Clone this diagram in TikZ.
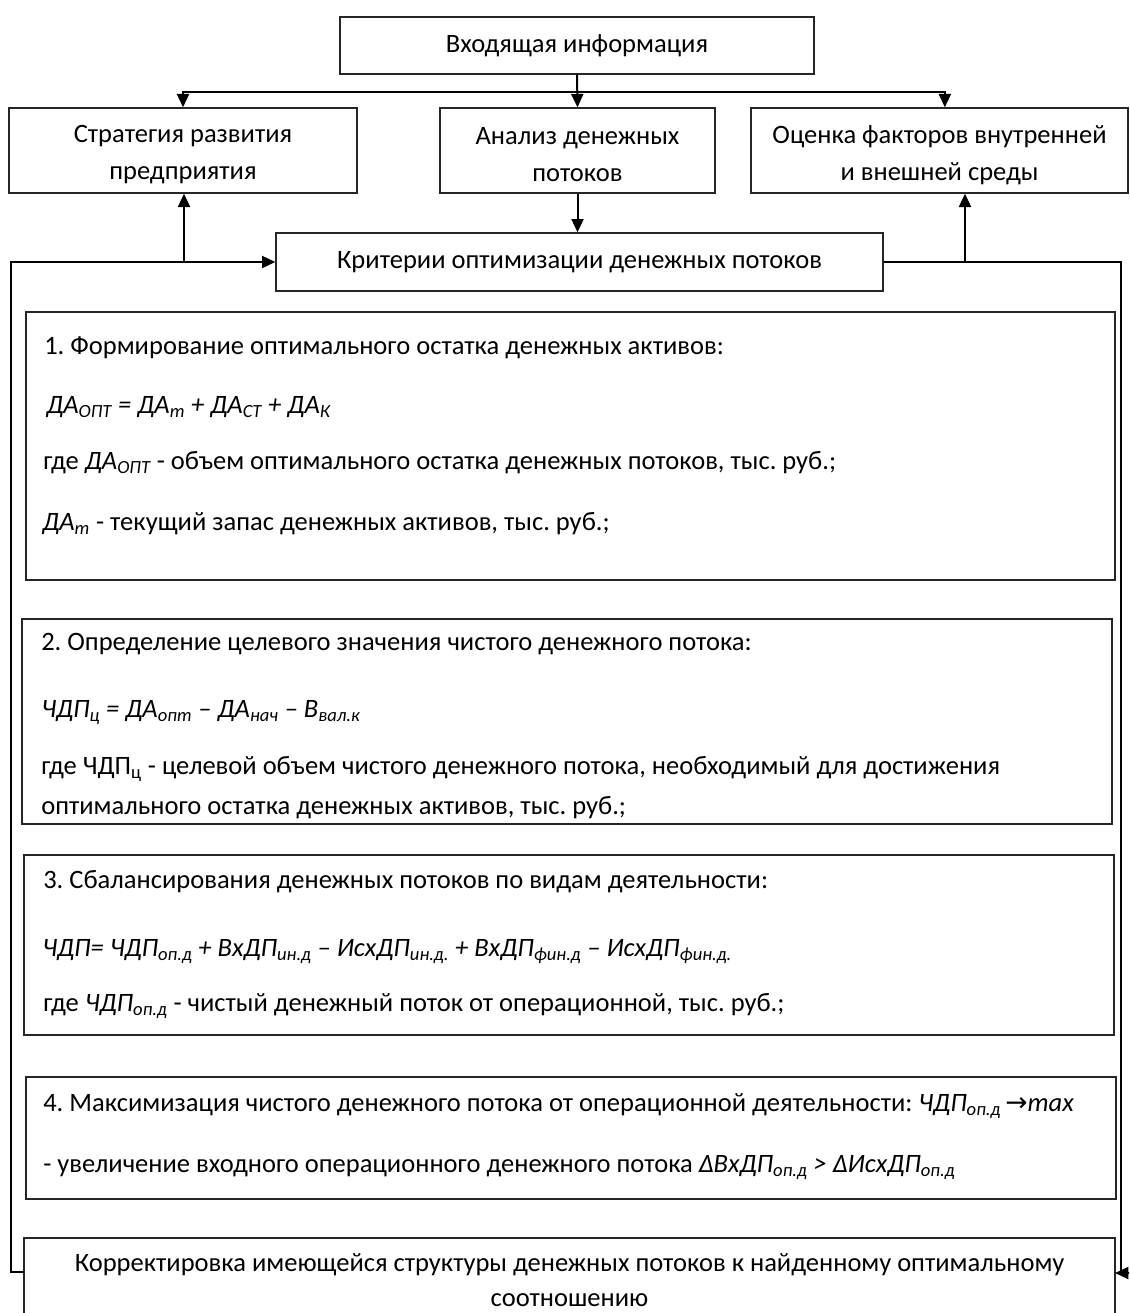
\documentclass[tikz,border=0pt]{standalone}
\usepackage{fontspec}
\setmainfont{Carlito}
\newfontfamily\dv{DejaVu Sans}
\usetikzlibrary{arrows.meta,fit}
\frenchspacing
\newcommand\fs{\fontsize{19.9pt}{27.75pt}\selectfont}
\newcommand\sub[1]{\textsubscript{#1}}
\begin{document}
\begin{tikzpicture}[x=0.75pt,y=-0.75pt,
  box/.style={draw=black!85, line width=1pt, rectangle, inner sep=0pt},
  ln/.style={line width=1.5pt, black},
  arr/.style={line width=1.5pt, black, -{Triangle[length=10pt,width=9pt]}},
  txt/.style={inner sep=0pt, anchor=base west, font=\fs},
  btxt/.style={inner sep=0pt, anchor=base, font=\fs},
  ctxt/.style={inner sep=0pt, anchor=center, align=center, font=\fs}]
\clip (0,0) rectangle (1129,1313);
\fill[white] (0,0) rectangle (1129,1313);
% boxes
\node[box, fit={(340,17) (814,74)}] (top) {};
\node[box, fit={(9,108) (357,193)}] (lft) {};
\node[box, fit={(440,108) (715,193)}] (mid) {};
\node[box, fit={(751,108) (1128,193)}] (rgt) {};
\node[box, fit={(276,233) (883,291)}] (crit) {};
\node[box, fit={(26,312) (1115,580)}] (b1) {};
\node[box, fit={(22,619) (1112,824)}] (b2) {};
\node[box, fit={(24,855) (1114,1035)}] (b3) {};
\node[box, fit={(26,1077) (1116,1199)}] (b4) {};
\node[box, fit={(24,1238) (1115,1340)}] (b5) {};
% texts in header boxes
\node[ctxt] (ttop) at (577,46) {Входящая информация};
\node[ctxt] (tlft) at (183,155) {Стратегия развития\\предприятия};
\node[ctxt] (tmid) at (577.5,155) {Анализ денежных\\потоков};
\node[ctxt] (trgt) at (939.5,155) {Оценка факторов внутренней\\и внешней среды};
\node[ctxt] (tcrit) at (579.5,262) {Критерии оптимизации денежных потоков};
% box 1
\node[txt] (l11) at (44,354) {1. Формирование оптимального остатка денежных активов:};
\node[txt] (l12) at (46,413) {\textit{ДА\sub{ОПТ} = ДА\sub{m} + ДА\sub{СТ} + ДА\sub{К}}};
\node[txt] (l13) at (43,469) {где \textit{ДА\sub{ОПТ}} - объем оптимального остатка денежных потоков, тыс. руб.;};
\node[txt] (l14) at (42,530) {\textit{ДА\sub{m}} - текущий запас денежных активов, тыс. руб.;};
% box 2
\node[txt] (l21) at (41,650) {2. Определение целевого значения чистого денежного потока:};
\node[txt] (l22) at (41,717) {\textit{ЧДП\sub{ц} = ДА\sub{опт} – ДА\sub{нач} – В\sub{вал.к}}};
\node[txt] (l23) at (41,774) {где ЧДП\sub{ц} - целевой объем чистого денежного потока, необходимый для достижения};
\node[txt] (l24) at (41,814) {оптимального остатка денежных активов, тыс. руб.;};
% box 3
\node[txt] (l31) at (43,888) {3. Сбалансирования денежных потоков по видам деятельности:};
\node[txt] (l32) at (42,956) {\textit{ЧДП= ЧДП\sub{оп.д} + ВхДП\sub{ин.д} – ИсхДП\sub{ин.д.} + ВхДП\sub{фин.д} – ИсхДП\sub{фин.д.}}};
\node[txt] (l33) at (43,1011) {где \textit{ЧДП\sub{оп.д}} - чистый денежный поток от операционной, тыс. руб.;};
% box 4
\node[txt] (l41) at (43,1111) {4. Максимизация чистого денежного потока от операционной деятельности: \textit{ЧДП\sub{оп.д}\,{\dv\upshape →}max}};
\node[txt] (l42) at (43,1172) {- увеличение входного операционного денежного потока \textit{ΔВхДП\sub{оп.д} > ΔИсхДП\sub{оп.д}}};
% box 5
\node[btxt] (t5a) at (569.5,1271) {Корректировка имеющейся структуры денежных потоков к найденному оптимальному};
\node[btxt] (t5b) at (569.5,1306) {соотношению};
% connectors
\coordinate (hub) at (577,92);
\coordinate (jL) at (184,262);
\coordinate (jR) at (965,262);
\coordinate (cR) at (1121,262);
\coordinate (dR) at (1121,1273);
\coordinate (aR) at (1129.5,1273);
\coordinate (eR) at (1115,1273);
\coordinate (fL) at (24,1272);
\coordinate (gL) at (11,1272);
\coordinate (hL) at (11,262);
\draw[arr] (top.south) -- (mid.north);
\draw[arr] (hub) -| (lft.north);
\draw[arr] (hub) -| ([xshift=4pt]rgt.north);
\draw[arr] (mid.south) -- (mid.south |- crit.north);
\draw[arr] (jL) -- (jL |- lft.south);
\draw[arr] (jR) -- (jR |- rgt.south);
\draw[arr] (fL) -- (gL) -- (hL) -- (crit.west);
\draw[ln] (crit.east) -- (cR) -- (dR);
\draw[arr] (aR) -- (eR);
\end{tikzpicture}
\end{document}
